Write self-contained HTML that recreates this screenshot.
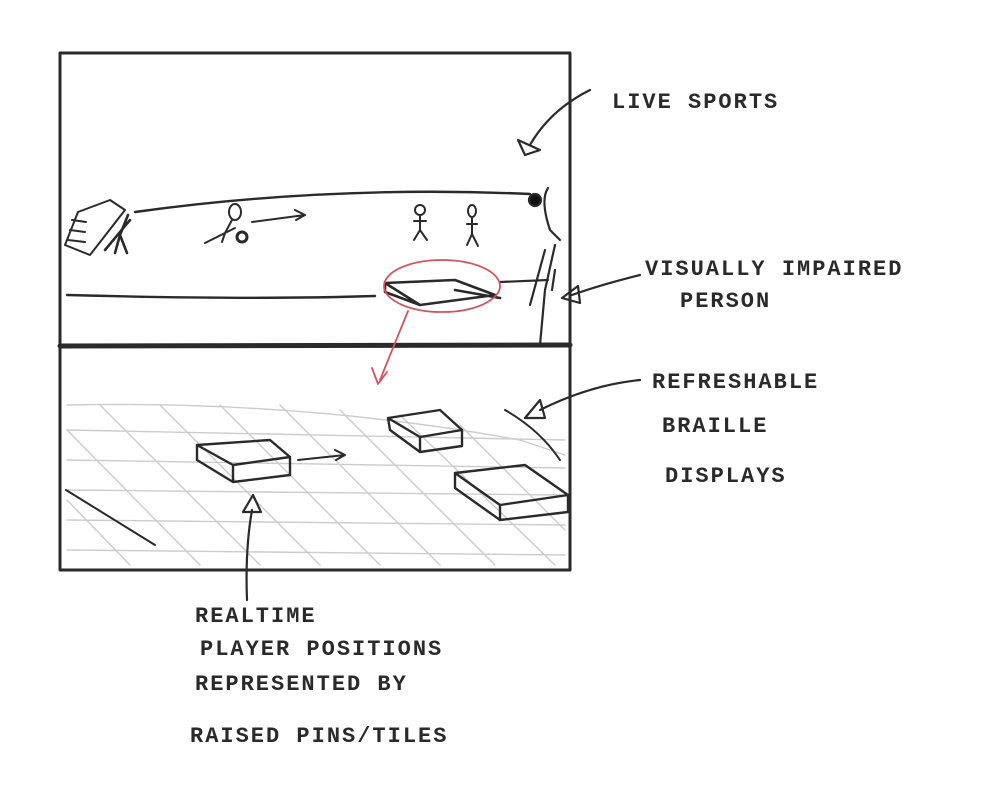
<!DOCTYPE html>
<html><head><meta charset="utf-8"><style>
html,body{margin:0;padding:0;background:#fff}
svg{display:block}
text{font-family:"Liberation Mono","DejaVu Sans Mono",monospace;font-size:22px;font-weight:bold;fill:#2a2a2a;letter-spacing:2px}
</style></head><body>
<svg width="983" height="803" viewBox="0 0 983 803">
<g fill="none" stroke="#2a2a2a" stroke-linecap="round" stroke-linejoin="round">
 <rect x="60" y="53" width="510" height="517" stroke-width="3"/>
 <line x1="60" y1="346" x2="570" y2="345" stroke-width="5"/>
 <path d="M135 212 Q330 185 530 194" stroke-width="2.4"/>
 <path d="M67 295 Q250 300 375 296" stroke-width="2.4"/>
 <path d="M65 245 L78 212 L110 200 L125 210 L90 255 Z M70 230 L85 232 M68 240 L85 242 M72 220 L86 222" stroke-width="2"/>
 <path d="M128 215 L120 235 M105 250 L130 220 M120 235 L115 253 M120 235 L127 253" stroke-width="2.6"/>
 <ellipse cx="235" cy="212" rx="6" ry="8" stroke-width="2"/>
 <path d="M232 220 L225 233 M205 243 L235 228 M225 233 L222 242" stroke-width="2"/>
 <circle cx="242" cy="237" r="5" stroke-width="3"/>
 <path d="M252 222 L305 215 M295 210 L305 215 L296 220" stroke-width="2"/>
 <g stroke-width="2"><circle cx="420" cy="210" r="5"/><path d="M420 215 L420 230 L414 240 M420 230 L427 240 M414 221 L426 221"/></g>
 <g stroke-width="2"><ellipse cx="472" cy="211" rx="4" ry="6"/><path d="M472 217 L472 234 L467 245 M472 234 L478 246 M467 224 L477 224"/></g>
 <g stroke-width="2.2">
  <circle cx="535" cy="200" r="6" fill="#111"/>
  <path d="M548 188 Q540 200 550 230 L560 240 M555 245 L545 290 L540 345 M548 280 L500 282 M545 250 L530 305 M555 270 L552 290"/>
  <path d="M385 283 L455 280 L495 295 L420 305 Z M385 283 L385 292 L420 305 M455 290 L500 298" stroke-width="2.6"/>
 </g>
 <g stroke="#d05560" stroke-width="1.8">
  <ellipse cx="442" cy="286" rx="58" ry="26"/>
  <path d="M408 311 L380 380 M372 368 L378 384 L387 372"/>
 </g>
 <g stroke="#ccc" stroke-width="1.4">
  <path d="M67 405 Q300 400 520 440 L565 455"/>
  <path d="M67 430 L565 440 M67 460 L565 468 M67 490 L565 495 M67 520 L565 525 M67 550 L565 555"/>
  <path d="M100 405 L260 565 M160 405 L320 565 M220 405 L380 565 M280 405 L440 565 M340 410 L495 565 M400 415 L555 565 M460 425 L565 530 M67 430 L200 565 M67 500 L130 565"/>
 </g>
 <path d="M505 410 Q540 430 560 460" stroke-width="2"/>
 <path d="M66 490 L155 545" stroke-width="2"/>
 <g stroke-width="2.4"><path d="M197 445 L270 440 L290 457 L233 465 Z M197 445 L197 460 L233 482 L233 465 M233 482 L290 475 L290 457"/></g>
 <g stroke-width="2.4"><path d="M388 418 L440 410 L462 430 L420 437 Z M388 418 L390 430 L420 452 L420 437 M420 452 L462 446 L462 430"/></g>
 <g stroke-width="2.4"><path d="M455 473 L525 465 L568 495 L500 505 Z M455 473 L455 488 L500 520 L500 505 M500 520 L568 512 L568 495"/></g>
 <path d="M298 460 L345 455 M335 450 L345 455 L336 460" stroke-width="2"/>
 <path d="M590 90 Q550 110 530 145 M518 140 L525 155 L540 150 Z" stroke-width="2.2"/>
 <path d="M640 275 Q600 285 572 295 M578 286 L562 298 L580 303 Z" stroke-width="2.2"/>
 <path d="M640 380 Q590 385 540 410 M540 400 L525 418 L545 418 Z" stroke-width="2.2"/>
 <path d="M247 600 Q245 550 252 510 M243 512 L253 495 L261 512 Z" stroke-width="2.2"/>
</g>
<text x="612" y="108">LIVE SPORTS</text>
<text x="645" y="275">VISUALLY IMPAIRED</text>
<text x="680" y="307">PERSON</text>
<text x="652" y="388">REFRESHABLE</text>
<text x="662" y="432">BRAILLE</text>
<text x="665" y="482">DISPLAYS</text>
<text x="195" y="622">REALTIME</text>
<text x="200" y="655">PLAYER POSITIONS</text>
<text x="195" y="690">REPRESENTED BY</text>
<text x="190" y="742">RAISED PINS/TILES</text>
</svg>
</body></html>
